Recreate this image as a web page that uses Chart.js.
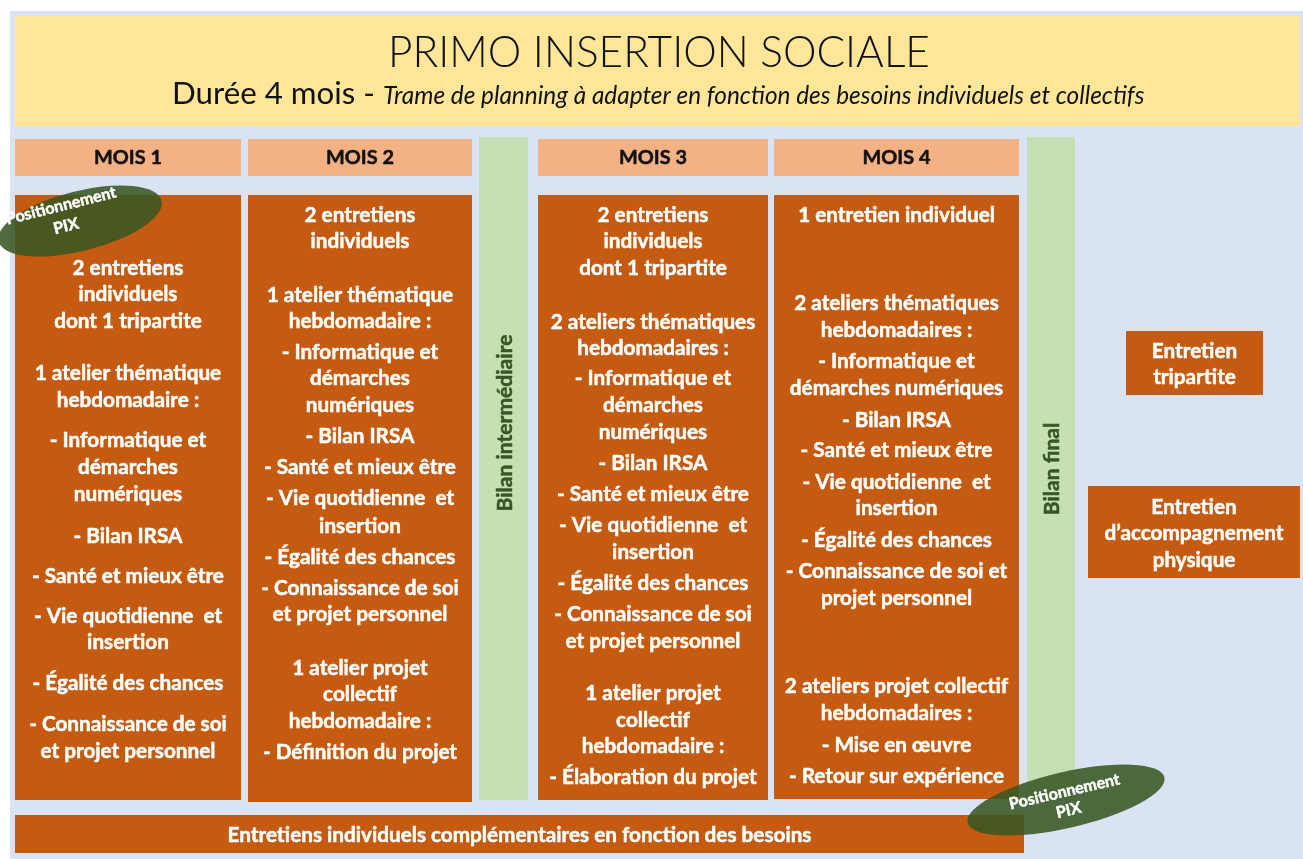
<!DOCTYPE html>
<html><head><meta charset="utf-8">
<script src="https://cdn.jsdelivr.net/npm/chart.js@4.4.0/dist/chart.umd.min.js"></script>
<style>html,body{margin:0;padding:0;background:#fff;overflow:hidden}canvas{display:block}</style>
</head><body><canvas id="c" width="1303" height="859"></canvas>
<script>
// ---------- DATA (texts) ----------
const title = "PRIMO INSERTION SOCIALE";
const subtitleMain = "Durée 4 mois - ";
const subtitleNote = "Trame de planning à adapter en fonction des besoins individuels et collectifs";
const months = ["MOIS 1", "MOIS 2", "MOIS 3", "MOIS 4"];
const mois1Lines = ["2 entretiens", "individuels", "dont 1 tripartite", "1 atelier thématique", "hebdomadaire :",
  "- Informatique et", "démarches", "numériques", "- Bilan IRSA", "- Santé et mieux être",
  "- Vie quotidienne  et", "insertion", "- Égalité des chances", "- Connaissance de soi", "et projet personnel"];
const mois2Lines = ["2 entretiens", "individuels", "1 atelier thématique", "hebdomadaire :",
  "- Informatique et", "démarches", "numériques", "- Bilan IRSA", "- Santé et mieux être",
  "- Vie quotidienne  et", "insertion", "- Égalité des chances", "- Connaissance de soi", "et projet personnel",
  "1 atelier projet", "collectif", "hebdomadaire :", "- Définition du projet"];
const mois3Lines = ["2 entretiens", "individuels", "dont 1 tripartite", "2 ateliers thématiques", "hebdomadaires :",
  "- Informatique et", "démarches", "numériques", "- Bilan IRSA", "- Santé et mieux être",
  "- Vie quotidienne  et", "insertion", "- Égalité des chances", "- Connaissance de soi", "et projet personnel",
  "1 atelier projet", "collectif", "hebdomadaire :", "- Élaboration du projet"];
const mois4Lines = ["1 entretien individuel", "2 ateliers thématiques", "hebdomadaires :",
  "- Informatique et", "démarches numériques", "- Bilan IRSA", "- Santé et mieux être",
  "- Vie quotidienne  et", "insertion", "- Égalité des chances", "- Connaissance de soi et", "projet personnel",
  "2 ateliers projet collectif", "hebdomadaires :", "- Mise en œuvre", "- Retour sur expérience"];
const bilanLabels = ["Bilan intermédiaire", "Bilan final"];
const complementLabel = "Entretiens individuels complémentaires en fonction des besoins";
const sideLabels = [["Entretien", "tripartite"], ["Entretien", "d\u2019accompagnement", "physique"]];
const pixLabel = ["Positionnement", "PIX"];

// ---------- LAYOUT (positions / sizes, in scale units = px) ----------
const LAYOUT = {
  panel: [10, 1303, 11, 859],
  banner: [15, 1300, 16, 126],
  headers: [[15, 241, 139, 176], [248, 472, 139, 176], [538, 768, 139, 176], [774, 1019, 139, 176]],
  monthBoxes: [[15, 241, 195, 800], [248, 472, 195, 802], [538, 768, 195, 800], [774, 1019, 195, 799]],
  bilanBars: [[479, 528, 137, 800], [1027, 1075, 137, 800]],
  bottomBar: [15, 1024, 815, 853],
  sideBoxes: [[1126, 1263, 331, 395], [1088, 1300, 486, 578]],
  lineY: [
    [268, 294, 321, 373, 400, 440, 467, 494, 536, 576, 616, 642, 683, 724, 751],
    [215, 241, 295, 321, 352, 378, 405, 436, 467, 498, 526, 557, 588, 614, 668, 694, 721, 752],
    [215, 241, 268, 322, 348, 378, 405, 432, 463, 494, 525, 552, 583, 614, 641, 693, 720, 746, 777],
    [215, 303, 330, 361, 388, 420, 450, 482, 508, 540, 571, 598, 686, 713, 745, 776]
  ],
  bilanTextY: [423, 469],
  bilanTextX: [505, 1052],
  sideTextY: [[351, 377], [507, 533, 560]],
  bottomTextY: 835,
  headerTextY: 158,
  bodyFitWidth: 584,
  titleBaseline: 67, titleCenter: 659, titleWidth: 542,
  subBaseline: 104, subLeft: 172, subMainWidth: 203, subNoteLeft: 383, subNoteWidth: 762,
  ellipses: [
    { cx: 80, cy: 221, rx: 84, ry: 30, rot: -14, tx: 63.5, ty: 216, gap: 21 },
    { cx: 1066, cy: 800, rx: 101, ry: 28, rot: -13, tx: 1066.5, ty: 801, gap: 19 }
  ]
};
const COLORS = {
  panel: '#DAE3F3', banner: '#FFE699', header: '#F4B183', box: '#C55A11', green: '#C5E0B4',
  greenText: '#375623', ellipse: 'rgba(56,87,35,0.88)', dark: '#111111', white: '#FFFFFF'
};
const FAMILY = 'Lato, "Open Sans", sans-serif';
const HEAVY = 'bold';
const THICKEN = 0.5;

// ---------- helpers ----------
const mctx = document.createElement('canvas').getContext('2d');
function fitSize(text, target, weight, style) {
  mctx.font = `${style || 'normal'} ${weight} 100px ${FAMILY}`;
  return 100 * target / mctx.measureText(text).width;
}
function rectDataset(r, color, order) {
  return {
    data: [{ x: (r[0] + r[1]) / 2, y: [r[2], r[3]] }],
    barThickness: r[1] - r[0],
    backgroundColor: color, borderWidth: 0, grouped: false, order: order || 0,
    borderSkipped: false, inflateAmount: 0
  };
}
function boldText(c, t, x, y) {
  c.strokeStyle = c.fillStyle;
  c.lineWidth = THICKEN;
  c.lineJoin = 'round';
  c.strokeText(t, x, y);
  c.fillText(t, x, y);
}

function build() {
  const datasets = [];
  datasets.push(rectDataset(LAYOUT.panel, COLORS.panel, 10));
  datasets.push(rectDataset(LAYOUT.banner, COLORS.banner, 9));
  months.forEach((m, i) => datasets.push(rectDataset(LAYOUT.headers[i], COLORS.header, 5)));
  LAYOUT.bilanBars.forEach(r => datasets.push(rectDataset(r, COLORS.green, 5)));
  months.forEach((m, i) => datasets.push(rectDataset(LAYOUT.monthBoxes[i], COLORS.box, 5)));
  datasets.push(rectDataset(LAYOUT.bottomBar, COLORS.box, 5));
  LAYOUT.sideBoxes.forEach(r => datasets.push(rectDataset(r, COLORS.box, 5)));

  const bodySize = fitSize(complementLabel, LAYOUT.bodyFitWidth, HEAVY);
  const headerSize = fitSize("MOIS 1", 68, HEAVY);
  const bilanSize = fitSize(bilanLabels[0], 177, HEAVY);
  const pixSize = fitSize(pixLabel[0], 113, HEAVY);
  const titleSize = fitSize(title, LAYOUT.titleWidth, 300);
  const subMainSize = fitSize(subtitleMain.trim(), LAYOUT.subMainWidth, 'normal');
  const subNoteSize = fitSize(subtitleNote, LAYOUT.subNoteWidth, 'normal', 'italic');

  const textPlugin = {
    id: 'diagramText',
    beforeDraw(chart) {
      const c = chart.ctx;
      c.save(); c.fillStyle = '#ffffff'; c.fillRect(0, 0, chart.width, chart.height); c.restore();
    },
    afterDatasetsDraw(chart) {
      const c = chart.ctx, xs = chart.scales.x, ys = chart.scales.y;
      const X = v => xs.getPixelForValue(v), Y = v => ys.getPixelForValue(v);
      c.save();
      c.textAlign = 'center';
      c.fillStyle = COLORS.dark;
      c.textBaseline = 'alphabetic';
      c.font = `300 ${titleSize}px ${FAMILY}`;
      c.fillText(title, X(LAYOUT.titleCenter), Y(LAYOUT.titleBaseline));
      c.textAlign = 'left';
      c.font = `normal ${subMainSize}px ${FAMILY}`;
      c.fillText(subtitleMain, X(LAYOUT.subLeft), Y(LAYOUT.subBaseline));
      c.font = `italic normal ${subNoteSize}px ${FAMILY}`;
      c.fillText(subtitleNote, X(LAYOUT.subNoteLeft), Y(LAYOUT.subBaseline));
      c.textAlign = 'center';
      c.textBaseline = 'middle';
      c.font = `${HEAVY} ${headerSize}px ${FAMILY}`;
      months.forEach((m, i) => {
        const r = LAYOUT.headers[i];
        boldText(c, m, X((r[0] + r[1]) / 2), Y(LAYOUT.headerTextY));
      });
      c.fillStyle = COLORS.white;
      c.font = `${HEAVY} ${bodySize}px ${FAMILY}`;
      [mois1Lines, mois2Lines, mois3Lines, mois4Lines].forEach((lines, i) => {
        const r = LAYOUT.monthBoxes[i];
        lines.forEach((t, j) => boldText(c, t, X((r[0] + r[1]) / 2), Y(LAYOUT.lineY[i][j])));
      });
      const b = LAYOUT.bottomBar;
      boldText(c, complementLabel, X((b[0] + b[1]) / 2), Y(LAYOUT.bottomTextY));
      sideLabels.forEach((lines, i) => {
        const r = LAYOUT.sideBoxes[i];
        lines.forEach((t, j) => boldText(c, t, X((r[0] + r[1]) / 2), Y(LAYOUT.sideTextY[i][j])));
      });
      c.fillStyle = COLORS.greenText;
      c.font = `${HEAVY} ${bilanSize}px ${FAMILY}`;
      bilanLabels.forEach((t, i) => {
        c.save();
        c.translate(X(LAYOUT.bilanTextX[i]), Y(LAYOUT.bilanTextY[i]));
        c.rotate(-Math.PI / 2);
        boldText(c, t, 0, 0);
        c.restore();
      });
      LAYOUT.ellipses.forEach(e => {
        c.save();
        c.fillStyle = COLORS.ellipse;
        c.beginPath();
        c.ellipse(X(e.cx), Y(e.cy), Math.abs(X(e.cx + e.rx) - X(e.cx)), Math.abs(Y(e.cy + e.ry) - Y(e.cy)), e.rot * Math.PI / 180, 0, Math.PI * 2);
        c.fill();
        c.translate(X(e.tx), Y(e.ty));
        c.rotate(e.rot * Math.PI / 180);
        c.fillStyle = COLORS.white;
        c.font = `${HEAVY} ${pixSize}px ${FAMILY}`;
        boldText(c, pixLabel[0], 0, -e.gap / 2);
        boldText(c, pixLabel[1], 0, e.gap / 2);
        c.restore();
      });
      c.restore();
    }
  };

  new Chart(document.getElementById('c'), {
    type: 'bar',
    data: { datasets },
    options: {
      responsive: false, animation: false, devicePixelRatio: 1,
      events: [],
      layout: { padding: 0 },
      plugins: { legend: { display: false }, tooltip: { enabled: false }, title: { display: false } },
      scales: {
        x: { type: 'linear', min: 0, max: 1303, display: false, offset: false, grid: { display: false } },
        y: { type: 'linear', min: 0, max: 859, reverse: true, display: false, beginAtZero: false, grid: { display: false } }
      }
    },
    plugins: [textPlugin]
  });
}

Promise.all([
  document.fonts.load('bold 20px Lato'),
  document.fonts.load('300 20px Lato'),
  document.fonts.load('normal 20px Lato'),
  document.fonts.load('italic 20px Lato')
]).catch(() => {}).then(build);
</script>
</body></html>
